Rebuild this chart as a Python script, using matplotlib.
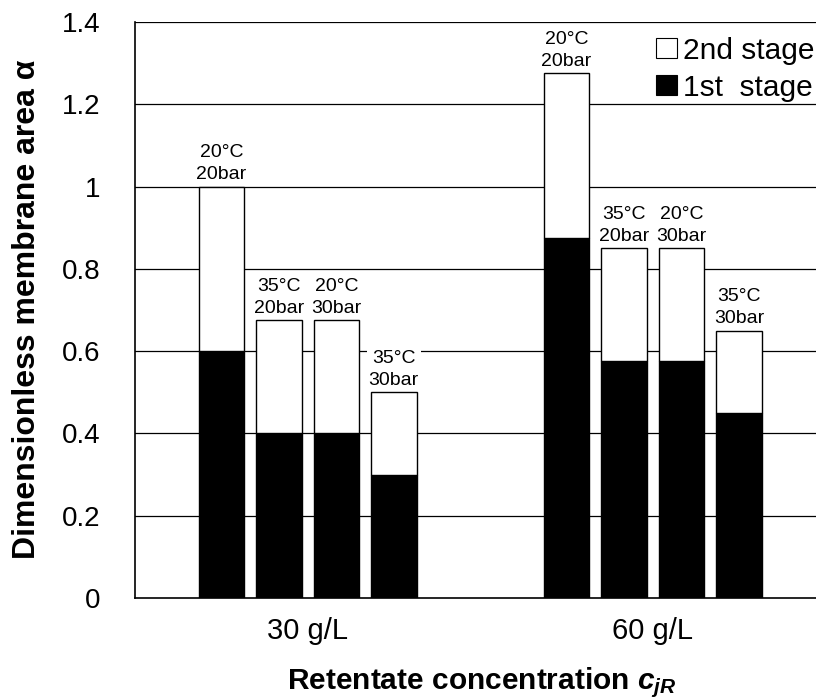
import matplotlib
matplotlib.use("Agg")
import matplotlib.pyplot as plt
from matplotlib.patches import Patch

plt.rcParams['font.family'] = ['Liberation Sans', 'DejaVu Sans']
plt.rcParams['mathtext.fontset'] = 'custom'
plt.rcParams['mathtext.it'] = 'Liberation Sans:italic:bold'
plt.rcParams['mathtext.rm'] = 'Liberation Sans:bold'

# Data
groups = ["30 g/L", "60 g/L"]
conditions = ["20°C\n20bar", "35°C\n20bar", "20°C\n30bar", "35°C\n30bar"]
first_stage = [[0.6, 0.4, 0.4, 0.3],
               [0.875, 0.575, 0.575, 0.45]]
total_area = [[1.0, 0.675, 0.675, 0.5],
              [1.275, 0.85, 0.85, 0.65]]
y_ticks = [0, 0.2, 0.4, 0.6, 0.8, 1.0, 1.2, 1.4]
y_tick_labels = ["0", "0.2", "0.4", "0.6", "0.8", "1", "1.2", "1.4"]

W, H = 816, 700
fig = plt.figure(figsize=(W / 100, H / 100), dpi=100)
ax = fig.add_axes([135 / W, 1 - 598 / H, 1 - 135 / W, (598 - 22) / H])

bar_w = 0.79
group_starts = [0, 6]
for g, start in enumerate(group_starts):
    for i in range(len(conditions)):
        x = start + i
        f = first_stage[g][i]
        t = total_area[g][i]
        ax.bar(x, f, width=bar_w, color='black', edgecolor='black', linewidth=1.0, zorder=3)
        ax.bar(x, t - f, bottom=f, width=bar_w, color='white', edgecolor='black',
               linewidth=1.0, zorder=3)
        ax.annotate(conditions[i], xy=(x, t), xytext=(0, 2.5), textcoords='offset points',
                    ha='center', va='bottom', fontsize=14, linespacing=1.4, zorder=4,
                    bbox=dict(boxstyle='square,pad=0.1', facecolor='white', edgecolor='none'))

ax.set_ylim(0, 1.4)
ax.set_xlim(-1.5, 10.34)
ax.set_yticks(y_ticks)
ax.set_yticklabels(y_tick_labels)
ax.set_xticks([start + 1.5 for start in group_starts])
ax.set_xticklabels(groups)
ax.tick_params(axis='both', length=0)
ax.tick_params(axis='y', pad=25, labelsize=20)
ax.tick_params(axis='x', pad=14, labelsize=21)

for yv in y_ticks[1:]:
    ax.axhline(yv, color='black', linewidth=0.9, zorder=1)

for side in ['top', 'right']:
    ax.spines[side].set_visible(False)
for side in ['left', 'bottom']:
    ax.spines[side].set_linewidth(1.2)

# Axis titles
fig.text(27 / W, 1 - 309 / H, "Dimensionless membrane area α", rotation=90,
         ha='center', va='center', fontsize=23, fontweight='bold')
fig.text(482 / W, 1 - 689 / H, r"Retentate concentration $\mathit{c}_{\mathit{jR}}$",
         ha='center', va='baseline', fontsize=21.5, fontweight='bold')

handles = [Patch(facecolor='white', edgecolor='black', linewidth=0.8, label='2nd stage'),
           Patch(facecolor='black', edgecolor='black', linewidth=0.8, label='1st  stage')]
leg = ax.legend(handles=handles, loc='upper right', bbox_to_anchor=(1.011, 0.99),
                frameon=False, fontsize=21.5, handlelength=0.7, handleheight=0.65,
                handletextpad=0.2, labelspacing=0.3, borderaxespad=0.1, borderpad=0.2)
leg.set_zorder(5)

fig.savefig("out.png", dpi=100)
